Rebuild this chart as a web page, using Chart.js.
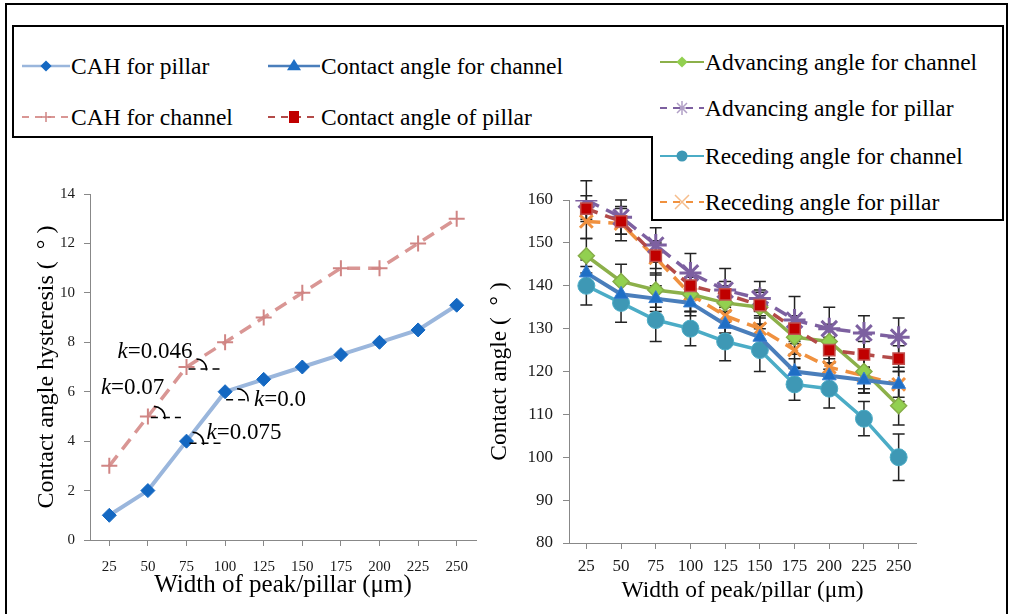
<!DOCTYPE html>
<html>
<head>
<meta charset="utf-8">
<script src="https://cdn.jsdelivr.net/npm/chart.js@4.4.1/dist/chart.umd.min.js"></script>
<style>
body { margin:0; width:1011px; height:614px; overflow:hidden; background:#fff; position:relative;
  font-family:"Liberation Serif","Times New Roman",serif; }
#frame { position:absolute; left:5px; top:3px; width:1003px; height:640px; border:2px solid #000; box-sizing:border-box; }
.cv { position:absolute; }
#legL { position:absolute; left:12px; top:25px; width:642px; height:113px; border:2px solid #000; border-right:none; background:#fff; box-sizing:border-box; z-index:5; }
#legR { position:absolute; left:652px; top:25px; width:352px; height:196px; border:2px solid #000; border-left:none; background:#fff; box-sizing:border-box; z-index:5; }
#legRside { position:absolute; left:651px; top:136px; width:2px; height:85px; background:#000; z-index:6; }
.item { position:absolute; display:flex; align-items:center; font-size:23.5px; color:#000; white-space:nowrap; z-index:7; height:30px; }
.item svg { margin-right:1px; }
</style>
</head>
<body>
<div id="frame"></div>
<canvas id="left" class="cv" width="470" height="444" style="left:20px;top:170px;width:470px;height:444px"></canvas>
<canvas id="right" class="cv" width="531" height="444" style="left:480px;top:170px;width:531px;height:444px"></canvas>
<div id="legL"></div>
<div id="legR"></div>
<div id="legRside"></div>
<script>
// x categories (um)
const widths = ['25', '50', '75', '100', '125', '150', '175', '200', '225', '250'];

// left chart: contact angle hysteresis
const cahPillar  = [1, 2, 4, 6, 6.5, 7, 7.5, 8, 8.5, 9.5];
const cahChannel = [3, 5, 7, 8, 9, 10, 11, 11, 12, 13];

// right chart: contact angles
const contactChannel = [143, 138, 137, 136, 131, 128, 120, 119, 118, 117];
const contactPillar  = [158, 155, 147, 140, 138, 135.5, 130, 125, 124, 123];
const advChannel     = [147, 141, 139, 138, 136, 135, 128, 127, 120, 112];
const advPillar      = [160, 156, 149.5, 143, 139, 137, 132, 130, 129, 128];
const recChannel     = [140, 136, 132, 130, 127, 125, 117, 116, 109, 100];
const recPillar      = [155, 154.5, 146.5, 138, 133, 130, 125, 121, 119, 117];

// error bars (+/-)
const contactChannelErr = [3, 3, 3, 3, 3, 3, 3, 3, 3, 3];
const contactPillarErr  = [3, 3, 3, 3, 3, 3, 3, 3, 3, 3];
const advChannelErr     = [4, 4, 4, 4, 4, 4, 4, 4, 4, 4.5];
const advPillarErr      = [4.5, 4, 4, 4.5, 5, 4, 5.5, 5, 4, 4.5];
const recChannelErr     = [4.5, 4.5, 5, 4, 4.5, 5, 3.7, 4.5, 4, 5.4];
const recPillarErr      = [4, 4, 4, 4, 4, 4, 4, 4, 4, 4];

const serif = '"Liberation Serif","Times New Roman",serif';

function series(label, data, o) {
  return {
    label: label, data: data, errors: o.err,
    borderColor: o.line, borderWidth: o.lw, borderDash: o.dash || [],
    pointStyle: o.marker, pointRadius: o.r, pointHoverRadius: o.r,
    pointBackgroundColor: o.fill, pointBorderColor: o.mline, pointBorderWidth: o.mlw,
    tension: 0, fill: false
  };
}

const leftSets = [
  series('CAH for pillar', cahPillar, {line:'#9ab6dc', lw:4, marker:'rectRot', r:7, fill:'#1468c2', mline:'#1468c2', mlw:1}),
  series('CAH for channel', cahChannel, {line:'#d99694', lw:3.5, dash:[13,8], marker:'cross', r:8, fill:'#d08584', mline:'#d08584', mlw:2})
];

const rightSets = [
  series('Contact angle for channel', contactChannel, {line:'#4a7ebb', lw:4, marker:'triangle', r:8, fill:'#1f6fc5', mline:'#3a7fd0', mlw:1, err:contactChannelErr}),
  series('Contact angle of pillar', contactPillar, {line:'#b34a48', lw:3.5, dash:[12,8], marker:'rect', r:8, fill:'#c00000', mline:'#c0504d', mlw:1.5, err:contactPillarErr}),
  series('Advancing angle for channel', advChannel, {line:'#8cb04a', lw:3.5, marker:'rectRot', r:8, fill:'#92d050', mline:'#86ad48', mlw:1.5, err:advChannelErr}),
  series('Advancing angle for pillar', advPillar, {line:'#7d60a0', lw:3.5, dash:[14,8], marker:'star', r:11, fill:'#7d60a0', mline:'#7d60a0', mlw:3, err:advPillarErr}),
  series('Receding angle for channel', recChannel, {line:'#4bacc6', lw:3.5, marker:'circle', r:8.5, fill:'#3e98b5', mline:'#4bacc6', mlw:1, err:recChannelErr}),
  series('Receding angle for pillar', recPillar, {line:'#f0913f', lw:3.5, dash:[14,8], marker:'crossRot', r:9, fill:'#f0913f', mline:'#f0913f', mlw:3, err:recPillarErr})
];

// error bars drawn under the markers
const errorBars = {
  id: 'errorBars',
  beforeDatasetsDraw(chart) {
    const ctx = chart.ctx, ys = chart.scales.y;
    ctx.save();
    ctx.strokeStyle = '#222';
    ctx.lineWidth = 1.5;
    chart.data.datasets.forEach((ds, i) => {
      if (!ds.errors) return;
      chart.getDatasetMeta(i).data.forEach((pt, j) => {
        const e = ds.errors[j];
        const t = ys.getPixelForValue(ds.data[j] + e), b = ys.getPixelForValue(ds.data[j] - e);
        ctx.beginPath();
        ctx.moveTo(pt.x, t); ctx.lineTo(pt.x, b);
        ctx.moveTo(pt.x - 6, t); ctx.lineTo(pt.x + 6, t);
        ctx.moveTo(pt.x - 6, b); ctx.lineTo(pt.x + 6, b);
        ctx.stroke();
      });
    });
    ctx.restore();
  }
};

// slope notes on the left chart
const slopeNotes = [
  {k:'0.046', ds:1, i:2, tx:-69, ty:-15, ax:10, ay:2, r:10, l0:2, l1:35},
  {k:'0.07',  ds:1, i:1, tx:-47, ty:-28, ax:6,  ay:1, r:11, l0:3, l1:33},
  {k:'0.0',   ds:0, i:3, tx:29,  ty:8,   ax:12, ay:8, r:11, l0:1, l1:23},
  {k:'0.075', ds:0, i:2, tx:20,  ty:-8,  ax:6,  ay:2, r:11, l0:3, l1:35}
];
const slopePlugin = {
  id: 'slopes',
  afterDatasetsDraw(chart) {
    const ctx = chart.ctx;
    ctx.save();
    slopeNotes.forEach(n => {
      const p = chart.getDatasetMeta(n.ds).data[n.i];
      ctx.strokeStyle = '#000';
      ctx.lineWidth = 1.5;
      ctx.setLineDash([]);
      ctx.beginPath();
      ctx.arc(p.x + n.ax, p.y + n.ay, n.r, -Math.PI / 2, 0.15);
      ctx.stroke();
      ctx.setLineDash([7, 5]);
      ctx.beginPath();
      ctx.moveTo(p.x + n.l0, p.y + n.ay);
      ctx.lineTo(p.x + n.l1, p.y + n.ay);
      ctx.stroke();
      ctx.setLineDash([]);
      ctx.fillStyle = '#000';
      ctx.textBaseline = 'middle';
      ctx.textAlign = 'left';
      let x = p.x + n.tx, y = p.y + n.ty;
      ctx.font = 'italic 23px ' + serif;
      ctx.fillText('k', x, y);
      x += ctx.measureText('k').width;
      ctx.font = '23px ' + serif;
      ctx.fillText('=' + n.k, x, y);
    });
    ctx.restore();
  }
};

function axes(o) {
  return {
    x: {
      offset: true,
      border: {color:'#888', width:1},
      grid: {drawOnChartArea:false, tickLength:6, color:'#888'},
      ticks: {autoSkip:false, maxRotation:0, color:'#1a1a1a', padding:o.xpad, font:{family:serif, size:o.tick}},
      title: {display:true, text:'Width of peak/pillar (\u03bcm)', color:'#000', padding:{top:0, bottom:o.xtp}, font:{family:serif, size:o.xt}},
      afterFit(s) { s.height = o.xh; }
    },
    y: {
      min: o.min, max: o.max,
      border: {color:'#888', width:1},
      grid: {drawOnChartArea:false, tickLength:6, color:'#888'},
      ticks: {stepSize:o.step, color:'#1a1a1a', padding:o.ypad, font:{family:serif, size:o.tick}},
      title: {display:true, text:o.ytitle, color:'#000', padding:{top:o.ytp, bottom:0}, font:{family:serif, size:o.yt}},
      afterFit(s) { s.width = o.yw; }
    }
  };
}

Chart.defaults.animation = false;

new Chart(document.getElementById('left'), {
  type: 'line',
  data: {labels: widths, datasets: leftSets},
  options: {
    responsive: false,
    events: [],
    layout: {padding: {top:24, right:14, left:0, bottom:0}},
    plugins: {legend:{display:false}, tooltip:{enabled:false}},
    scales: axes({min:0, max:14, step:2, tick:15, xpad:12, ypad:9, xt:25, xtp:14, xh:74, yw:70, ytp:12, yt:24,
      ytitle:'Contact angle hysteresis (  \u00b0 )'})
  },
  plugins: [slopePlugin]
});

new Chart(document.getElementById('right'), {
  type: 'line',
  data: {labels: widths, datasets: rightSets},
  options: {
    responsive: false,
    events: [],
    layout: {padding: {top:30, right:95, left:0, bottom:0}},
    plugins: {legend:{display:false}, tooltip:{enabled:false}},
    scales: axes({min:80, max:160, step:10, tick:17, xpad:7, ypad:10, xt:23.5, xtp:9, xh:71, yw:89, ytp:6, yt:23.5,
      ytitle:'Contact angle (  \u00b0 )'})
  },
  plugins: [errorBars]
});

// legend built from the dataset styles
function markerSvg(ds, cx, cy) {
  const r = Math.min(ds.pointRadius, 7), f = ds.pointBackgroundColor, s = ds.pointBorderColor;
  switch (ds.pointStyle) {
    case 'rectRot': return `<polygon points="${cx},${cy-r*0.8} ${cx+r*0.8},${cy} ${cx},${cy+r*0.8} ${cx-r*0.8},${cy}" fill="${f}"/>`;
    case 'triangle': return `<polygon points="${cx},${cy-r} ${cx+r},${cy+r*0.6} ${cx-r},${cy+r*0.6}" fill="${f}"/>`;
    case 'rect': return `<rect x="${cx-5}" y="${cy-6}" width="10" height="12" fill="${f}"/>`;
    case 'circle': return `<circle cx="${cx}" cy="${cy}" r="5.5" fill="${f}"/>`;
    case 'cross': return `<path d="M${cx-5} ${cy}H${cx+5}M${cx} ${cy-5}V${cy+5}" stroke="${s}" stroke-width="1.5"/>`;
    case 'crossRot': return `<path d="M${cx-7} ${cy-7}L${cx+7} ${cy+7}M${cx-7} ${cy+7}L${cx+7} ${cy-7}" stroke="${s}" stroke-opacity="0.6" stroke-width="1.5"/>`;
    case 'star': return `<path d="M${cx-7} ${cy}H${cx+7}M${cx} ${cy-7}V${cy+7}M${cx-5} ${cy-5}L${cx+5} ${cy+5}M${cx-5} ${cy+5}L${cx+5} ${cy-5}" stroke="${s}" stroke-opacity="0.6" stroke-width="1.5"/>`;
  }
  return '';
}
function legendItem(parent, ds, left, top, w) {
  const d = document.createElement('div');
  d.className = 'item';
  d.style.left = left + 'px';
  d.style.top = top + 'px';
  const dash = ds.borderDash.length ? 'stroke-dasharray="7 6"' : '';
  const lw = ds.borderWidth > 3.8 ? 2.5 : 2;
  d.innerHTML = `<svg width="${w}" height="24"><line x1="0" y1="12" x2="${w}" y2="12" stroke="${ds.borderColor}" stroke-width="${lw}" ${dash}/>` +
    markerSvg(ds, w / 2, 12) + `</svg><span>${ds.label}</span>`;
  parent.appendChild(d);
}
const legL = document.getElementById('legL'), legR = document.getElementById('legR');
legendItem(legL, leftSets[0], 8, 24, 48);
legendItem(legL, rightSets[0], 254, 24, 52);
legendItem(legL, leftSets[1], 8, 75, 48);
legendItem(legL, rightSets[1], 254, 75, 52);
legendItem(legR, rightSets[2], 8, 20, 44);
legendItem(legR, rightSets[3], 8, 66, 44);
legendItem(legR, rightSets[4], 8, 114, 44);
legendItem(legR, rightSets[5], 8, 160, 44);
</script>
</body>
</html>
